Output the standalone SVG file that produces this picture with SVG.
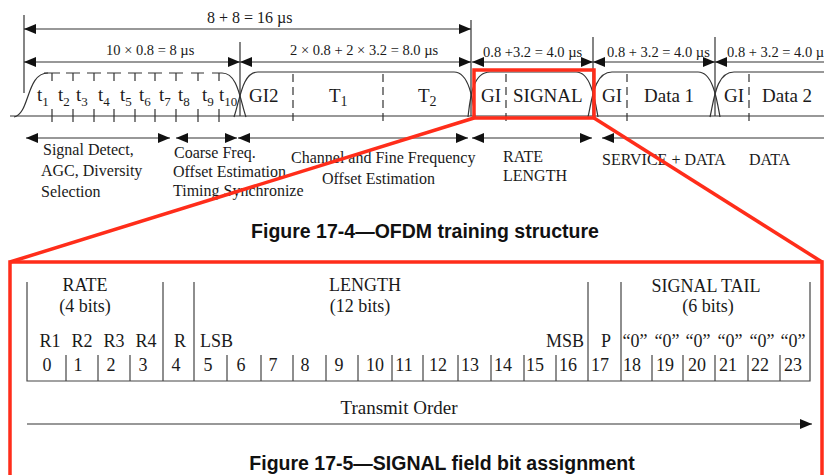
<svg xmlns="http://www.w3.org/2000/svg" width="824" height="475" viewBox="0 0 824 475">
<style>
.t{font-family:"Liberation Serif","Times New Roman",serif;fill:#1a1a1a}
.cap{font-family:"Liberation Sans",Arial,sans-serif;font-weight:bold;fill:#111;font-size:19.5px}
.ln{stroke:#333;stroke-width:1.2;fill:none}
.dash{stroke:#333;stroke-width:1.2;stroke-dasharray:8 5;fill:none}
.arr{stroke:#333;stroke-width:1.2;fill:none;marker-start:url(#ah);marker-end:url(#ah)}
.arrE{stroke:#333;stroke-width:1.2;fill:none;marker-end:url(#ah)}
.arrS{stroke:#333;stroke-width:1.2;fill:none;marker-start:url(#ah)}
.red{stroke:#ff2d1a;stroke-width:3.5;fill:none}
.tb{stroke:#444;stroke-width:1.2;fill:none}
</style>
<defs>
<marker id="ah" viewBox="0 0 12 10" refX="12" refY="5" markerWidth="12" markerHeight="10" markerUnits="userSpaceOnUse" orient="auto-start-reverse">
<path d="M0,0 L12,5 L0,10 z" fill="#111"/>
</marker>
</defs>
<rect width="824" height="475" fill="#fff"/>

<g id="timeline">
<line class="ln" x1="10" y1="116" x2="824" y2="116"/>
<line class="ln" x1="24" y1="15" x2="24" y2="93"/>
<line class="ln" x1="240" y1="42" x2="240" y2="116"/>
<line class="ln" x1="471" y1="20" x2="471" y2="116"/>
<line class="ln" x1="593" y1="37" x2="593" y2="116"/>
<line class="ln" x1="715" y1="37" x2="715" y2="116"/>
</g>

<g id="short-preamble">
<path class="ln" d="M14,117 C30,114 26,73 48,73"/>
<path class="ln" d="M222,73 C238,73 240,100 246,117"/>
<path class="ln" d="M44,73 H60 M66,73 H80 M87,73 H101 M107,73 H121 M128,73 H142 M148,73 H162 M169,73 H183 M191,73 H204 M212,73 H222"/>
<path class="ln" d="M52,73 V81 M73,73 V81 M94,73 V81 M114,73 V81 M135,73 V81 M155,73 V81 M176,73 V81 M198,73 V81 M219,73 V81"/>
<path class="ln" d="M52,109 V122 M73,109 V122 M94,109 V122 M114,109 V122 M135,109 V122 M155,109 V122 M176,109 V122 M198,109 V122 M219,109 V122"/>
<g class="t" font-size="19">
<text x="37" y="101">t<tspan font-size="13" dy="5">1</tspan></text>
<text x="58" y="101">t<tspan font-size="13" dy="5">2</tspan></text>
<text x="76" y="101">t<tspan font-size="13" dy="5">3</tspan></text>
<text x="98" y="101">t<tspan font-size="13" dy="5">4</tspan></text>
<text x="120" y="101">t<tspan font-size="13" dy="5">5</tspan></text>
<text x="139" y="101">t<tspan font-size="13" dy="5">6</tspan></text>
<text x="159" y="101">t<tspan font-size="13" dy="5">7</tspan></text>
<text x="178" y="101">t<tspan font-size="13" dy="5">8</tspan></text>
<text x="202" y="101">t<tspan font-size="13" dy="5">9</tspan></text>
<text x="219" y="101">t<tspan font-size="13" dy="5">10</tspan></text>
</g>
</g>

<g id="long-preamble">
<path class="ln" d="M234,117 C240,100 242,72 258,72 H454 C469,72 473,100 475,117"/>
<line class="dash" x1="293" y1="74" x2="293" y2="121"/>
<line class="dash" x1="383" y1="74" x2="383" y2="121"/>
<text class="t" font-size="19" x="249" y="102">GI2</text>
<text class="t" font-size="19" x="329" y="102">T<tspan font-size="14" dy="4">1</tspan></text>
<text class="t" font-size="19" x="418" y="102">T<tspan font-size="14" dy="4">2</tspan></text>
</g>

<g id="signal-symbol">
<path class="ln" d="M468,117 C470,100 472,72 490,72 H576 C591,72 595,100 598,117"/>
<line class="dash" x1="506" y1="74" x2="506" y2="121"/>
<text class="t" font-size="19" x="481" y="102">GI</text>
<text class="t" font-size="19" x="513" y="102">SIGNAL</text>
</g>

<g id="data1-symbol">
<path class="ln" d="M588,117 C592,100 594,72 612,72 H698 C713,72 717,100 720,117"/>
<line class="dash" x1="627" y1="74" x2="627" y2="121"/>
<text class="t" font-size="19" x="602" y="102">GI</text>
<text class="t" font-size="19" x="644" y="102">Data 1</text>
</g>

<g id="data2-symbol">
<path class="ln" d="M710,117 C714,100 716,72 734,72 H824"/>
<line class="dash" x1="749" y1="74" x2="749" y2="121"/>
<text class="t" font-size="19" x="724" y="102">GI</text>
<text class="t" font-size="19" x="762" y="102">Data 2</text>
</g>

<g id="connectors">
<line class="arr" x1="24" y1="29" x2="471" y2="29"/>
<line class="arr" x1="24" y1="62" x2="240" y2="62"/>
<line class="arr" x1="240" y1="62" x2="471" y2="62"/>
<line class="arr" x1="472" y1="62" x2="593" y2="62"/>
<line class="arr" x1="593" y1="62" x2="715" y2="62"/>
<line class="arrS" x1="715" y1="62" x2="824" y2="62"/>
<line class="arr" x1="26" y1="138" x2="170" y2="138"/>
<line class="arr" x1="176" y1="138" x2="237" y2="138"/>
<line class="arr" x1="238" y1="138" x2="468" y2="138"/>
<line class="arr" x1="472" y1="138" x2="592" y2="138"/>
<line class="arrS" x1="602" y1="138" x2="824" y2="138"/>
<line class="arrE" x1="27" y1="424" x2="812" y2="424"/>
</g>

<g id="durations" class="t">
<text x="207" y="23" font-size="16">8 + 8 = 16 µs</text>
<text x="106" y="55" font-size="14.5">10 × 0.8 = 8 µs</text>
<text x="290" y="55" font-size="14.5">2 × 0.8 + 2 × 3.2 = 8.0 µs</text>
<text x="483" y="57" font-size="14.5">0.8 +3.2 = 4.0 µs</text>
<text x="607" y="57" font-size="14.5">0.8 + 3.2 = 4.0 µs</text>
<text x="727" y="57" font-size="14.5">0.8 + 3.2 = 4.0 µs</text>
</g>

<g id="functions" class="t" font-size="16">
<text x="43" y="155">Signal Detect,</text>
<text x="41" y="176">AGC, Diversity</text>
<text x="41" y="197">Selection</text>
<text x="174" y="158">Coarse Freq.</text>
<text x="173" y="177">Offset Estimation</text>
<text x="173" y="196">Timing Synchronize</text>
<text x="291" y="163">Channel and Fine Frequency</text>
<text x="322" y="184">Offset Estimation</text>
<text x="503" y="162">RATE</text>
<text x="503" y="181">LENGTH</text>
<text x="602" y="165">SERVICE + DATA</text>
<text x="749" y="165">DATA</text>
</g>

<text class="cap" x="425" y="238" text-anchor="middle">Figure 17-4—OFDM training structure</text>

<g id="bit-table">
<path class="tb" d="M27,282 V381 H810 V282 M163,282 V381 M194,282 V381 M588,282 V381 M621,282 V381"/>
<path class="tb" d="M66,355 V381 M98,355 V381 M130,355 V381 M227,355 V381 M261,355 V381 M293,355 V381 M326,355 V381 M358,355 V381 M392,355 V381 M423,355 V381 M458,355 V381 M491,355 V381 M524,355 V381 M556,355 V381 M652,355 V381 M683,355 V381 M715,355 V381 M748,355 V381 M780,355 V381"/>
<g class="t" font-size="18" text-anchor="middle">
<text x="85" y="291">RATE</text>
<text x="85" y="312">(4 bits)</text>
<text x="365" y="291">LENGTH</text>
<text x="360" y="312">(12 bits)</text>
<text x="706" y="292">SIGNAL TAIL</text>
<text x="708" y="312">(6 bits)</text>
<text x="50" y="347">R1</text>
<text x="82" y="347">R2</text>
<text x="114" y="347">R3</text>
<text x="146" y="347">R4</text>
<text x="180" y="347">R</text>
<text x="606" y="347">P</text>
<text x="635" y="347">“0”</text>
<text x="667" y="347">“0”</text>
<text x="698" y="347">“0”</text>
<text x="730" y="347">“0”</text>
<text x="762" y="347">“0”</text>
<text x="793" y="347">“0”</text>
<text x="47" y="371">0</text>
<text x="78" y="371">1</text>
<text x="111" y="371">2</text>
<text x="143" y="371">3</text>
<text x="176" y="371">4</text>
<text x="208" y="371">5</text>
<text x="241" y="371">6</text>
<text x="273" y="371">7</text>
<text x="305" y="371">8</text>
<text x="339" y="371">9</text>
<text x="375" y="371">10</text>
<text x="404" y="371">11</text>
<text x="438" y="371">12</text>
<text x="470" y="371">13</text>
<text x="503" y="371">14</text>
<text x="535" y="371">15</text>
<text x="568" y="371">16</text>
<text x="600" y="371">17</text>
<text x="632" y="371">18</text>
<text x="665" y="371">19</text>
<text x="697" y="371">20</text>
<text x="728" y="371">21</text>
<text x="760" y="371">22</text>
<text x="793" y="371">23</text>
</g>
<text class="t" font-size="18" x="200" y="347">LSB</text>
<text class="t" font-size="18" x="584" y="347" text-anchor="end">MSB</text>
<text class="t" font-size="19" x="399" y="414" text-anchor="middle">Transmit Order</text>
</g>

<text class="cap" x="442" y="470" text-anchor="middle">Figure 17-5—SIGNAL field bit assignment</text>

<g id="zoom-highlight">
<rect class="red" x="474" y="70" width="120" height="48"/>
<line class="red" x1="474" y1="118" x2="10" y2="262"/>
<line class="red" x1="594" y1="118" x2="822" y2="262"/>
<rect class="red" x="10" y="262" width="812" height="240" stroke-width="4"/>
</g>
</svg>
